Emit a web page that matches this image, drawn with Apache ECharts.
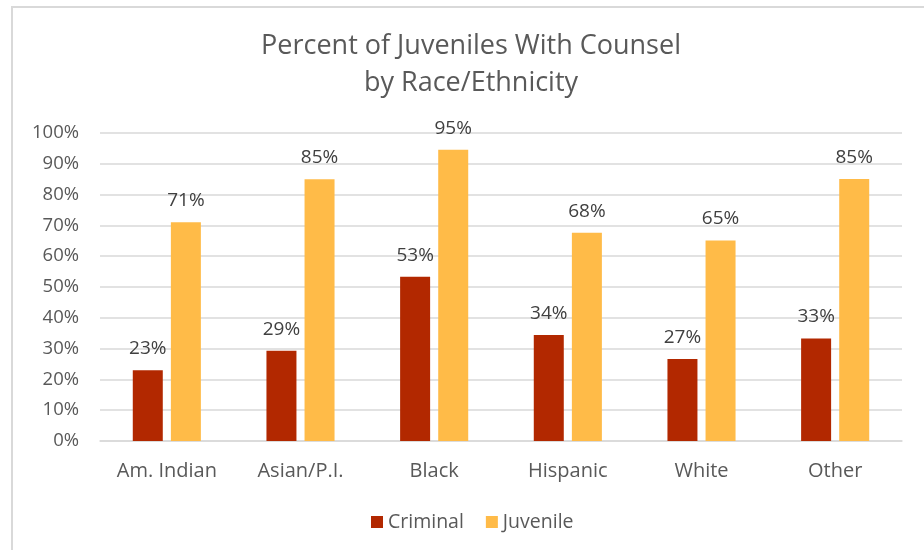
<!DOCTYPE html>
<html>
<head>
<meta charset="utf-8">
<script src="https://cdn.jsdelivr.net/npm/echarts@6/dist/echarts.min.js"></script>
<style>html,body{margin:0;padding:0;background:#fff}#c{width:924px;height:550px}</style>
</head>
<body>
<div id="c"></div>
<script>
const categories = ['Am. Indian', 'Asian/P.I.', 'Black', 'Hispanic', 'White', 'Other'];
const criminal = [23.0, 29.3, 53.3, 34.4, 26.6, 33.3];
const juvenile = [71.0, 85.0, 94.6, 67.6, 65.1, 85.1];
const yTicks = [0, 10, 20, 30, 40, 50, 60, 70, 80, 90, 100];

const FONT = '"Open Sans", sans-serif';
const chart = echarts.init(document.getElementById('c'), null, {renderer: 'canvas'});
const lbl = {
  show: true, position: 'top', distance: 12,
  color: '#404040', fontSize: 19, fontFamily: FONT,
  formatter: p => Math.round(p.value) + '%'
};
chart.setOption({
  animation: false,
  backgroundColor: '#fff',
  graphic: [{
    type: 'rect', z: -1,
    shape: {x: 12, y: 7, width: 940, height: 580},
    style: {fill: 'none', stroke: '#d9d9d9', lineWidth: 2}
  }],
  title: {
    text: 'Percent of Juveniles With Counsel\nby Race/Ethnicity',
    left: 471, top: 28, padding: 0, textAlign: 'center',
    textStyle: {fontFamily: FONT, fontWeight: 'normal', fontSize: 27, color: '#595959', lineHeight: 37}
  },
  legend: {
    data: ['Criminal', 'Juvenile'],
    bottom: 18, left: 371, padding: 0,
    icon: 'rect', itemWidth: 12, itemHeight: 12, itemGap: 22,
    textStyle: {fontFamily: FONT, fontSize: 19.5, color: '#595959'}
  },
  grid: {left: 100, right: 22, top: 133, bottom: 109},
  xAxis: {
    type: 'category', data: categories,
    axisLine: {lineStyle: {color: '#d9d9d9', width: 1.5}},
    axisTick: {show: false},
    axisLabel: {fontFamily: FONT, fontSize: 20, color: '#595959', margin: 20}
  },
  yAxis: {
    type: 'value', min: 0, max: 100, interval: 10,
    axisLine: {show: false}, axisTick: {show: false},
    splitLine: {lineStyle: {color: '#d9d9d9', width: 1.5}},
    axisLabel: {fontFamily: FONT, fontSize: 18.5, color: '#595959', margin: 21,
      formatter: v => yTicks.includes(v) ? v + '%' : ''}
  },
  series: [
    {name: 'Criminal', type: 'bar', data: criminal, barWidth: 30, barGap: '27%',
     itemStyle: {color: '#B22800'}, label: lbl},
    {name: 'Juvenile', type: 'bar', data: juvenile, barWidth: 30, barGap: '27%',
     itemStyle: {color: '#FFBB48'}, label: lbl}
  ]
});
</script>
</body>
</html>
